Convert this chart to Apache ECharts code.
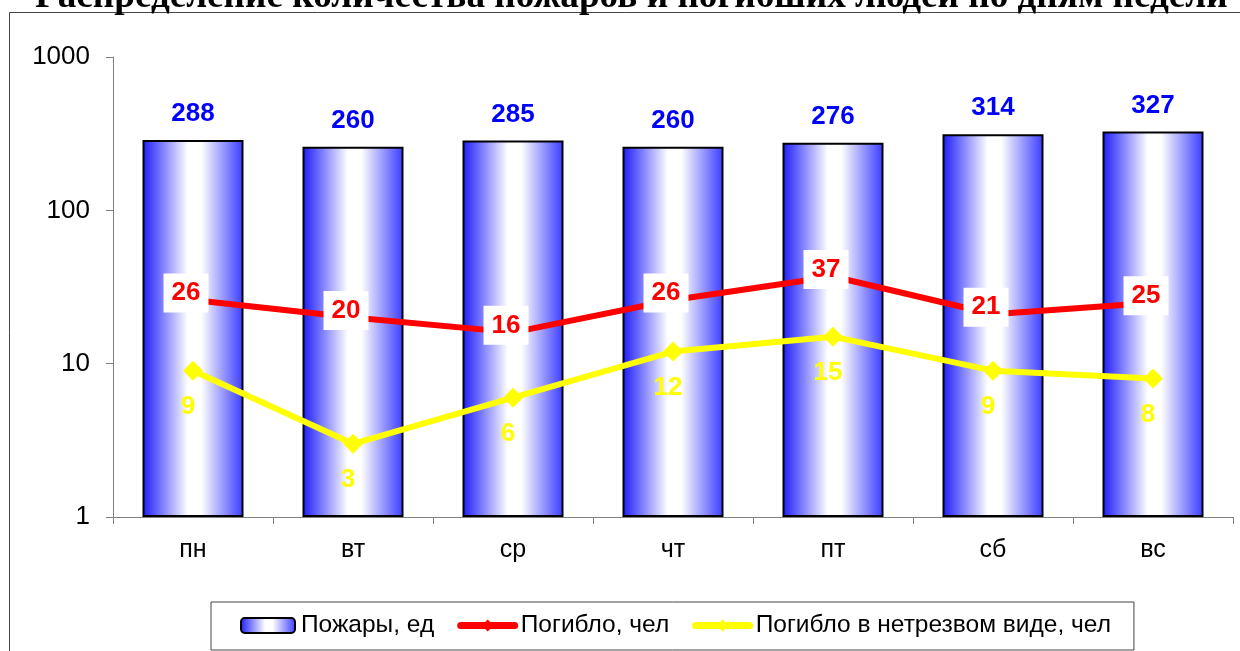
<!DOCTYPE html>
<html><head><meta charset="utf-8">
<script src="https://cdn.jsdelivr.net/npm/echarts@6/dist/echarts.min.js"></script>
<style>html,body{margin:0;padding:0;background:#fff}#c{width:1240px;height:651px}</style>
</head><body><div id="c"></div>
<script>
const titleText = 'Распределение количества пожаров и погибших людей по дням недели';
const categories = ['пн','вт','ср','чт','пт','сб','вс'];
const fires = [288, 260, 285, 260, 276, 314, 327];
const deaths = [26, 20, 16, 26, 37, 21, 25];
const drunkDeaths = [9, 3, 6, 12, 15, 9, 8];
const seriesNames = ['Пожары, ед', 'Погибло, чел', 'Погибло в нетрезвом виде, чел'];

const chart = echarts.init(document.getElementById('c'), null, {renderer:'canvas'});
const barGrad = new echarts.graphic.LinearGradient(0,0,1,0,[
  {offset:0, color:'#1a1aff'},
  {offset:0.45, color:'#ffffff'},
  {offset:0.58, color:'#ffffff'},
  {offset:1, color:'#3a3aff'}
]);
chart.setOption({
  animation:false,
  backgroundColor:'#fff',
  title:{text:titleText,left:30,top:-26,
    textStyle:{fontFamily:'Liberation Serif',fontWeight:'bold',fontSize:37.2,color:'#000'}},
  graphic:[{type:'rect',shape:{x:9.5,y:12.5,width:1300,height:700},
    style:{fill:null,stroke:'#444',lineWidth:1},z:-1}],
  grid:{left:113,right:7,top:57,bottom:134},
  legend:{left:211,top:602,padding:[11,23,12,29],itemGap:23,itemWidth:54,itemHeight:15,
    borderColor:'#444',borderWidth:1,
    lineStyle:{width:7,cap:'round'},
    textStyle:{fontFamily:'Liberation Sans',fontSize:24.5,color:'#000',padding:[0,0,0,1]},
    data:seriesNames},
  xAxis:{type:'category',data:categories,
    axisLine:{lineStyle:{color:'#808080',width:1}},
    axisTick:{show:true,length:7,interval:0,lineStyle:{color:'#808080'}},
    axisLabel:{margin:21,fontFamily:'Liberation Sans',fontSize:25,color:'#000'}},
  yAxis:{type:'log',logBase:10,min:1,max:1000,
    axisLine:{show:true,lineStyle:{color:'#808080',width:1}},
    axisTick:{show:true,length:7,lineStyle:{color:'#808080'}},
    splitLine:{show:false},
    axisLabel:{margin:23,fontFamily:'Liberation Sans',fontSize:26,color:'#000',formatter:v=>String(v)}},
  series:[
    {name:seriesNames[0],type:'bar',data:fires,barWidth:101,
      itemStyle:{color:barGrad,borderColor:'#000',borderWidth:2},
      label:{show:true,position:'top',distance:13,color:'#0000ff',fontFamily:'Liberation Sans',fontWeight:'bold',fontSize:26}},
    {name:seriesNames[1],type:'line',data:deaths,color:'#ff0000',
      lineStyle:{color:'#ff0000',width:6},symbol:'diamond',symbolSize:9,
      itemStyle:{color:'#ff0000'},z:4,
      label:{show:true,position:'inside',offset:[-7,-7],color:'#ff0000',backgroundColor:'#fff',
        padding:[7,8,6,8],fontFamily:'Liberation Sans',fontWeight:'bold',fontSize:26}},
    {name:seriesNames[2],type:'line',data:drunkDeaths,color:'#ffff00',
      lineStyle:{color:'#ffff00',width:6},symbol:'diamond',symbolSize:20,
      itemStyle:{color:'#ffff00'},z:3,
      label:{show:true,position:'bottom',distance:13,offset:[-5,0],color:'#ffff00',fontFamily:'Liberation Sans',fontWeight:'bold',fontSize:26}}
  ]
});
</script></body></html>
